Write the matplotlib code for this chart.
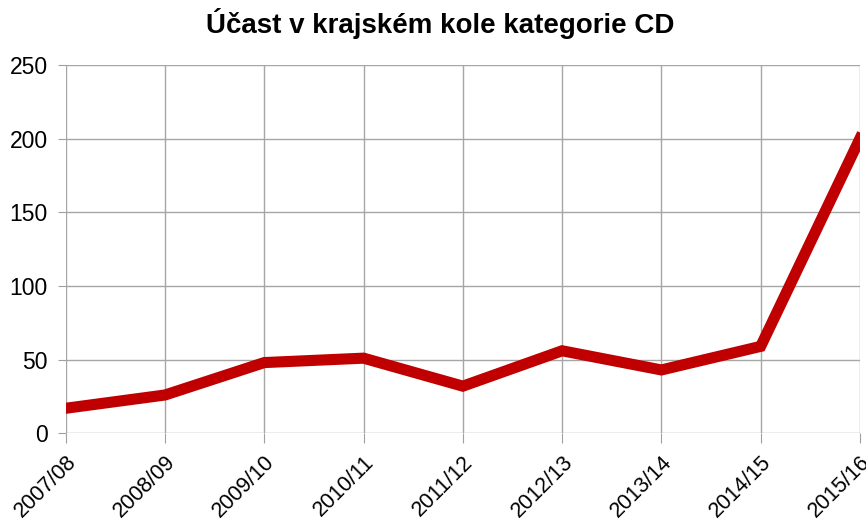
import matplotlib
matplotlib.use('Agg')
import matplotlib.pyplot as plt

seasons = ['2007/08', '2008/09', '2009/10', '2010/11', '2011/12',
           '2012/13', '2013/14', '2014/15', '2015/16']
ucast = [17, 26, 48, 51, 32, 56, 43, 59, 200]

plt.rcParams['font.family'] = ['Liberation Sans', 'DejaVu Sans']

fig = plt.figure(figsize=(8.66, 5.32), dpi=100)
ax = fig.add_axes([0.0759, 0.1855, 0.9171, 0.6925])

x = list(range(len(seasons)))
ax.plot(x, ucast, color='#c00000', linewidth=8, solid_joinstyle='miter', zorder=3)

ax.set_xlim(0, len(seasons) - 1)
ax.set_ylim(0, 250)
ax.set_yticks([0, 50, 100, 150, 200, 250])
ax.set_xticks(x)
ax.set_xticklabels(seasons, rotation=45, ha='right', va='top',
                   rotation_mode='anchor', fontsize=15.5)
ax.tick_params(axis='y', labelsize=16.5, length=6, color='#a0a0a0', pad=7)
ax.tick_params(axis='x', length=7, color='#a0a0a0', pad=6)
ax.grid(True, color='#a6a6a6', linewidth=1)
ax.set_axisbelow(True)
for s in ax.spines.values():
    s.set_visible(False)

fig.suptitle('Účast v krajském kole kategorie CD', fontsize=20,
             fontweight='bold', x=0.508, y=0.985)

fig.savefig('out.png')
